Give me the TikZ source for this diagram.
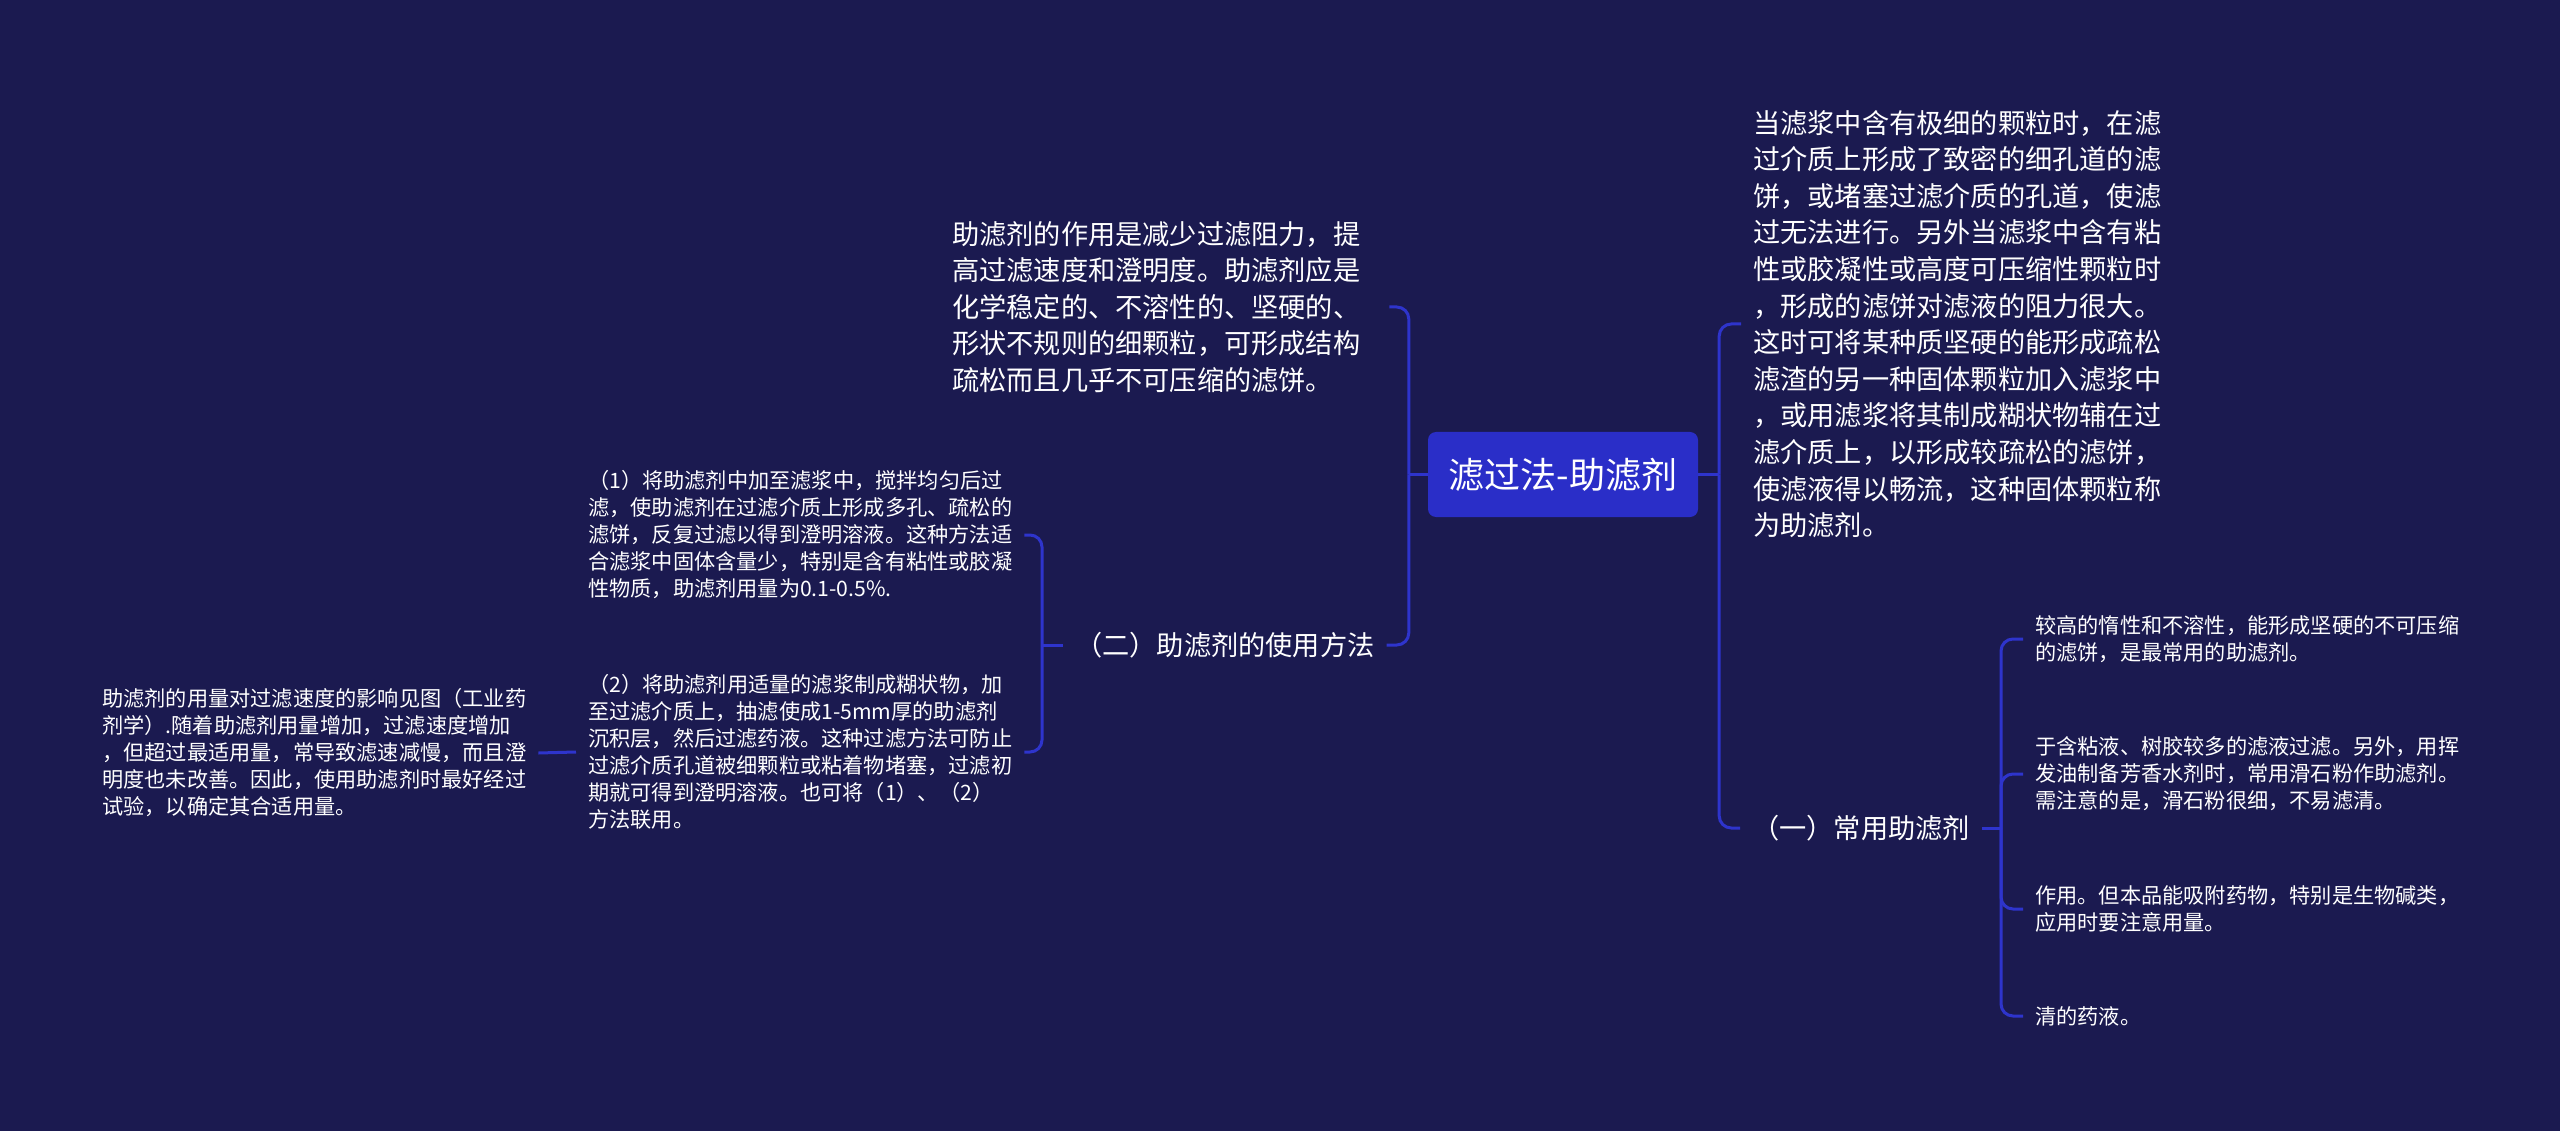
\documentclass[tikz,border=0pt]{standalone}
\usepackage{fontspec}
\newfontfamily\cjk{Noto Sans CJK SC}
\definecolor{bg}{RGB}{27,26,80}
\definecolor{ln}{RGB}{46,52,204}
\definecolor{rootfill}{RGB}{42,46,200}
\tikzset{
  rootbox/.style={fill=rootfill, rounded corners=8pt, minimum width=270pt, minimum height=85pt, text=white, font=\cjk\fontsize{36}{40}\selectfont, inner sep=0pt},
  bigtext/.style={font=\cjk\fontsize{27.2}{36.6}\selectfont, text=white, align=left, inner xsep=12pt, inner ysep=0pt, anchor=west},
  midtext/.style={font=\cjk\fontsize{27.2}{32}\selectfont, text=white, align=left, inner xsep=12pt, inner ysep=0pt, anchor=west},
  smalltext/.style={font=\cjk\fontsize{21.2}{27}\selectfont, text=white, align=left, inner xsep=12pt, inner ysep=0pt, anchor=west},
  conn/.style={draw=ln, line width=3pt, rounded corners=12pt}
}
\begin{document}
\begin{tikzpicture}[x=1pt,y=-1pt]
\fill[bg] (0,0) rectangle (2560,1131);
\useasboundingbox (0,0) rectangle (2560,1131);

\node[rootbox] (root) at (1563,474.5) {滤过法-助滤剂};

\node[bigtext] (n1) at (940,307) {助滤剂的作用是减少过滤阻力，提\\高过滤速度和澄明度。助滤剂应是\\化学稳定的、不溶性的、坚硬的、\\形状不规则的细颗粒，可形成结构\\疏松而且几乎不可压缩的滤饼。};

\node[midtext] (n2) at (1063,645) {（二）助滤剂的使用方法};

\node[smalltext] (n3) at (576,535) {（1）将助滤剂中加至滤浆中，搅拌均匀后过\\滤，使助滤剂在过滤介质上形成多孔、疏松的\\滤饼，反复过滤以得到澄明溶液。这种方法适\\合滤浆中固体含量少，特别是含有粘性或胶凝\\性物质，助滤剂用量为0.1-0.5\%.};

\node[smalltext] (n4) at (576,752) {（2）将助滤剂用适量的滤浆制成糊状物，加\\至过滤介质上，抽滤使成1-5mm厚的助滤剂\\沉积层，然后过滤药液。这种过滤方法可防止\\过滤介质孔道被细颗粒或粘着物堵塞，过滤初\\期就可得到澄明溶液。也可将（1）、（2）\\方法联用。};

\node[smalltext] (n5) at (90,753) {助滤剂的用量对过滤速度的影响见图（工业药\\剂学）.随着助滤剂用量增加，过滤速度增加\\，但超过最适用量，常导致滤速减慢，而且澄\\明度也未改善。因此，使用助滤剂时最好经过\\试验，以确定其合适用量。};

\node[bigtext] (n6) at (1741,324) {当滤浆中含有极细的颗粒时，在滤\\过介质上形成了致密的细孔道的滤\\饼，或堵塞过滤介质的孔道，使滤\\过无法进行。另外当滤浆中含有粘\\性或胶凝性或高度可压缩性颗粒时\\，形成的滤饼对滤液的阻力很大。\\这时可将某种质坚硬的能形成疏松\\滤渣的另一种固体颗粒加入滤浆中\\，或用滤浆将其制成糊状物辅在过\\滤介质上，以形成较疏松的滤饼，\\使滤液得以畅流，这种固体颗粒称\\为助滤剂。};

\node[midtext] (n7) at (1740,828) {（一）常用助滤剂};

\node[smalltext] (c1) at (2023,639) {较高的惰性和不溶性，能形成坚硬的不可压缩\\的滤饼，是最常用的助滤剂。};
\node[smalltext] (c2) at (2023,774) {于含粘液、树胶较多的滤液过滤。另外，用挥\\发油制备芳香水剂时，常用滑石粉作助滤剂。\\需注意的是，滑石粉很细，不易滤清。};
\node[smalltext] (c3) at (2023,909) {作用。但本品能吸附药物，特别是生物碱类，\\应用时要注意用量。};
\node[smalltext] (c4) at (2023,1016) {清的药液。};

% left side of root
\coordinate (rl) at ([xshift=-19pt]root.west);
\draw[conn] (root.west) -- (rl);
\draw[conn] ([xshift=17pt]n1.east) -| (rl);
\draw[conn] (n2.east) -| (rl);

% right side of root
\coordinate (rr) at ([xshift=21pt]root.east);
\draw[conn] (root.east) -- (rr);
\draw[conn] (rr) |- (n6.west);
\draw[conn] (rr) |- (n7.west);

% method branch
\coordinate (l2) at ([xshift=-21pt]n2.west);
\draw[conn] (n2.west) -- (l2);
\draw[conn] (l2) |- (n3.east);
\draw[conn] (l2) |- (n4.east);
\draw[conn] (n4.west) -- (n5.east);

% common filter aids branch
\coordinate (r7) at ([xshift=19pt]n7.east);
\draw[conn] (n7.east) -- (r7);
\draw[conn] (r7) |- (c1.west);
\draw[conn] (r7) |- (c2.west);
\draw[conn] (r7) |- (c3.west);
\draw[conn] (r7) |- (c4.west);
\end{tikzpicture}
\end{document}
